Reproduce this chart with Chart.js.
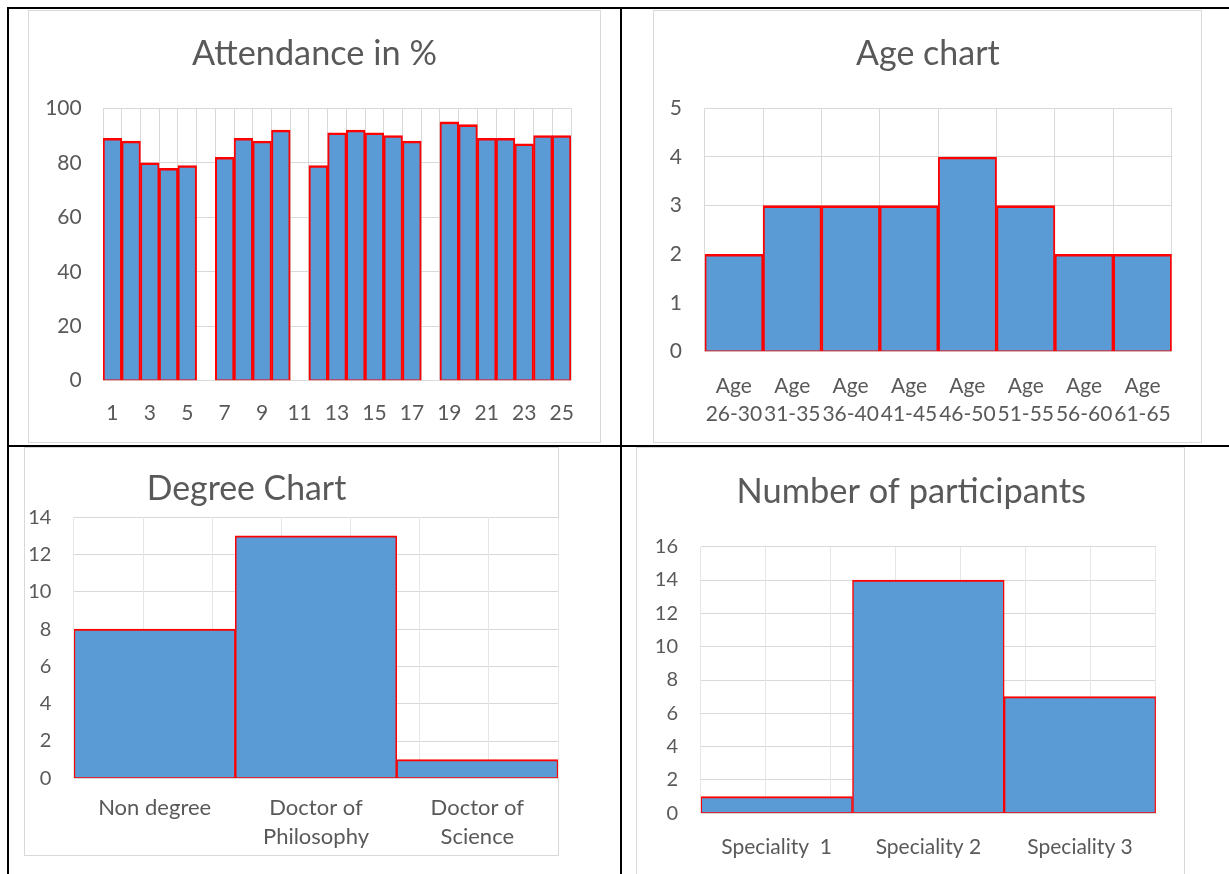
<!DOCTYPE html>
<html>
<head>
<meta charset="utf-8">
<script src="https://cdn.jsdelivr.net/npm/chart.js@4.4.1/dist/chart.umd.min.js"></script>
<style>
  html, body { margin: 0; padding: 0; background: #fff; }
  body { position: relative; width: 1229px; height: 874px; overflow: hidden; font-family: Lato, sans-serif; }
  .rule { position: absolute; background: #000; }
  .frame { position: absolute; box-sizing: border-box; border: 1px solid #d9d9d9; }
  .panel { position: absolute; }
  .panel canvas { display: block; }
</style>
</head>
<body>
<!-- table rules -->
<div class="rule" style="left:7px;top:7px;width:1222px;height:2px"></div>
<div class="rule" style="left:7px;top:7px;width:2px;height:867px"></div>
<div class="rule" style="left:620px;top:7px;width:2px;height:867px"></div>
<div class="rule" style="left:7px;top:445px;width:1222px;height:2px"></div>

<!-- chart frames -->
<div class="frame" style="left:28px;top:10px;width:573px;height:433px"></div>
<div class="frame" style="left:653px;top:10px;width:549px;height:433px"></div>
<div class="frame" style="left:24px;top:447px;width:535px;height:409px"></div>
<div class="frame" style="left:636px;top:447px;width:549px;height:440px"></div>

<div class="panel" style="left:28px;top:10px;width:573px;height:433px"><canvas id="attendanceChart"></canvas></div>
<div class="panel" style="left:653px;top:10px;width:549px;height:433px"><canvas id="ageChart"></canvas></div>
<div class="panel" style="left:24px;top:447px;width:535px;height:409px"><canvas id="degreeChart"></canvas></div>
<div class="panel" style="left:636px;top:447px;width:549px;height:433px"><canvas id="specialityChart"></canvas></div>

<script>
// ---- data ----
const sessions = ['1','2','3','4','5','6','7','8','9','10','11','12','13',
                  '14','15','16','17','18','19','20','21','22','23','24','25'];
const attendance = [89, 88, 80, 78, 79, null, 82, 89, 88, 92, null, 79, 91,
                    92, 91, 90, 88, null, 95, 94, 89, 89, 87, 90, 90];
const attendanceAxis = [0, 100, 20];   // min, max, step

const ageGroups = ['26-30', '31-35', '36-40', '41-45', '46-50', '51-55', '56-60', '61-65'];
const ageCounts = [2, 3, 3, 3, 4, 3, 2, 2];
const ageAxis = [0, 5, 1];

const degrees = [['Non degree'], ['Doctor of', 'Philosophy'], ['Doctor of', 'Science']];
const degreeCounts = [8, 13, 1];
const degreeAxis = [0, 14, 2];

const specialities = ['Speciality  1', 'Speciality 2', 'Speciality 3'];
const specialityCounts = [1, 14, 7];
const specialityAxis = [0, 16, 2];

// ---- styling ----
const TEXT = '#595959';
const GRID = '#d9d9d9';
const FILL = '#5B9BD5';
const EDGE = '#FF0000';
Chart.defaults.font.family = 'Lato';
Chart.defaults.color = TEXT;

// chart heading drawn at a fixed spot inside the panel
const panelTitle = {
  id: 'panelTitle',
  afterDraw(chart, args, opts) {
    if (!opts || !opts.text) return;
    const ctx = chart.ctx;
    ctx.save();
    ctx.font = opts.size + 'px Lato';
    ctx.fillStyle = TEXT;
    ctx.textAlign = 'center';
    ctx.textBaseline = 'alphabetic';
    ctx.fillText(opts.text, opts.x, opts.y);
    ctx.restore();
  }
};
Chart.register(panelTitle);

function barChart(id, p) {
  const scales = {
    x: {
      offset: true,
      grid: { display: !p.halfGrid, offset: true, color: GRID, drawTicks: false },
      border: { display: false },
      ticks: {
        autoSkip: false,
        maxRotation: 0,
        padding: p.xPad,
        font: { size: p.xFont, lineHeight: p.xLine },
        callback: p.xCallback || function (v) { return this.getLabelForValue(v); }
      },
      afterFit(s) { s.height = p.xHeight; }
    },
    y: {
      min: p.axis[0], max: p.axis[1],
      grid: { color: GRID, drawTicks: false },
      border: { display: false },
      ticks: { stepSize: p.axis[2], padding: p.yPad, font: { size: p.yFont } },
      afterFit(s) { s.width = p.yWidth; }
    }
  };
  if (p.halfGrid) {
    // vertical gridlines at every half category
    scales.gx = {
      type: 'linear', position: 'bottom', min: 0, max: p.labels.length,
      grid: { color: p.halfGridColor, drawTicks: false },
      border: { display: false },
      ticks: { display: false, stepSize: 0.5 },
      afterFit(s) { s.height = 0; }
    };
  }
  return new Chart(document.getElementById(id), {
    type: 'bar',
    data: {
      labels: p.labels,
      datasets: [{
        data: p.values,
        backgroundColor: FILL,
        borderColor: EDGE,
        borderWidth: p.edge,
        borderSkipped: false,
        barPercentage: 1,
        categoryPercentage: 1
      }]
    },
    options: {
      responsive: true,
      maintainAspectRatio: false,
      animation: false,
      layout: { padding: { left: 0, top: p.top, right: p.right, bottom: 0 } },
      plugins: {
        legend: { display: false },
        tooltip: { enabled: false },
        panelTitle: p.title
      },
      scales
    }
  });
}

barChart('attendanceChart', {
  labels: sessions, values: attendance, axis: attendanceAxis,
  title: { text: 'Attendance in %', x: 286.5, y: 55, size: 34.3 },
  top: 98.3, right: 30, yWidth: 75, xHeight: 62.3,
  yPad: 21.3, yFont: 21, xPad: 19.5, xFont: 21, xLine: 1.2,
  edge: { top: 2.6, left: 2, right: 2, bottom: 1 },
  xCallback(v, i) { return i % 2 === 0 ? this.getLabelForValue(v) : ''; }
});

barChart('ageChart', {
  labels: ageGroups.map(g => ['Age', g]), values: ageCounts, axis: ageAxis,
  title: { text: 'Age chart', x: 274.9, y: 55, size: 34 },
  top: 98.3, right: 30.3, yWidth: 51.7, xHeight: 91.3,
  yPad: 22.7, yFont: 21, xPad: 19.95, xFont: 21, xLine: '28.3px',
  edge: { top: 2.6, left: 2, right: 2, bottom: 1 }
});

barChart('degreeChart', {
  labels: degrees, values: degreeCounts, axis: degreeAxis,
  title: { text: 'Degree Chart', x: 222.5, y: 53, size: 33.8 },
  top: 70.3, right: 1, yWidth: 50, xHeight: 77.7,
  yPad: 22.6, yFont: 20, xPad: 15.65, xFont: 22, xLine: '28.7px',
  edge: { top: 2, left: 1.5, right: 1.5, bottom: 1 },
  halfGrid: true, halfGridColor: '#e6e6e6'
});

barChart('specialityChart', {
  labels: specialities, values: specialityCounts, axis: specialityAxis,
  title: { text: 'Number of participants', x: 275.3, y: 55.7, size: 34.4 },
  top: 99.7, right: 29.1, yWidth: 64.8, xHeight: 66.7,
  yPad: 22.8, yFont: 20, xPad: 21, xFont: 21, xLine: 1.2,
  edge: { top: 2, left: 1.5, right: 1.5, bottom: 1 },
  halfGrid: true, halfGridColor: '#e6e6e6'
});
</script>
</body>
</html>
